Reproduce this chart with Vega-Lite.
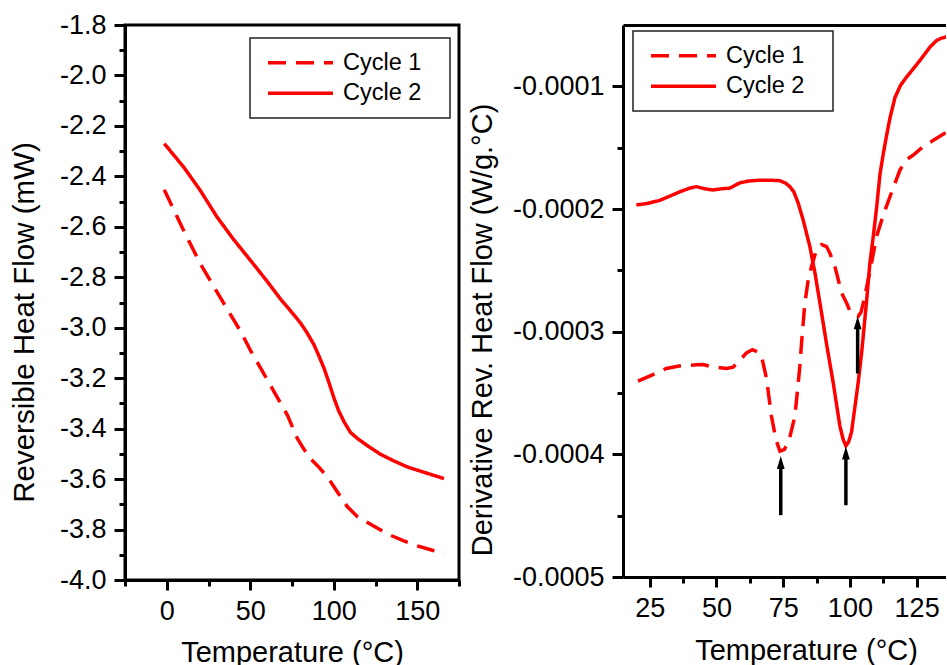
{
  "$schema": "https://vega.github.io/schema/vega-lite/v6.json",
  "background": "white",
  "padding": {"left": 7, "top": 9, "right": 0, "bottom": 0},
  "spacing": 164,
  "bounds": "flush",
  "config": {
    "font": "Liberation Sans",
    "view": {"stroke": null},
    "axis": {
      "grid": false,
      "domainColor": "black",
      "domainWidth": 3,
      "tickColor": "black",
      "tickWidth": 3,
      "labelColor": "black",
      "labelFontSize": 27,
      "labelOverlap": false,
      "labelFlush": false,
      "titleColor": "black",
      "titleFontSize": 29,
      "titleFontWeight": "normal"
    },
    "legend": {
      "orient": "none",
      "symbolType": "stroke",
      "symbolSize": 4225,
      "symbolStrokeWidth": 3.5,
      "clipHeight": 29.5,
      "labelFontSize": 23.5,
      "labelColor": "black",
      "labelOffset": 8,
      "padding": 10,
      "symbolOffset": 6,
      "rowPadding": 0.5,
      "strokeColor": "#222222",
      "strokeWidth": 1.5,
      "fillColor": "white"
    }
  },
  "datasets": {
    "left": [
      {"t": -1.5, "v": -2.453, "cycle": "Cycle 1"},
      {"t": 9.4, "v": -2.605, "cycle": "Cycle 1"},
      {"t": 20.4, "v": -2.75, "cycle": "Cycle 1"},
      {"t": 32.3, "v": -2.883, "cycle": "Cycle 1"},
      {"t": 44.3, "v": -3.015, "cycle": "Cycle 1"},
      {"t": 50.3, "v": -3.092, "cycle": "Cycle 1"},
      {"t": 56.3, "v": -3.161, "cycle": "Cycle 1"},
      {"t": 64.3, "v": -3.254, "cycle": "Cycle 1"},
      {"t": 72.3, "v": -3.347, "cycle": "Cycle 1"},
      {"t": 78.2, "v": -3.439, "cycle": "Cycle 1"},
      {"t": 82, "v": -3.48, "cycle": "Cycle 1"},
      {"t": 86.2, "v": -3.52, "cycle": "Cycle 1"},
      {"t": 91, "v": -3.552, "cycle": "Cycle 1"},
      {"t": 96.2, "v": -3.591, "cycle": "Cycle 1"},
      {"t": 102.2, "v": -3.651, "cycle": "Cycle 1"},
      {"t": 108.2, "v": -3.71, "cycle": "Cycle 1"},
      {"t": 114, "v": -3.748, "cycle": "Cycle 1"},
      {"t": 120.2, "v": -3.772, "cycle": "Cycle 1"},
      {"t": 127, "v": -3.798, "cycle": "Cycle 1"},
      {"t": 134.1, "v": -3.823, "cycle": "Cycle 1"},
      {"t": 142, "v": -3.845, "cycle": "Cycle 1"},
      {"t": 150.1, "v": -3.865, "cycle": "Cycle 1"},
      {"t": 158, "v": -3.88, "cycle": "Cycle 1"},
      {"t": 166, "v": -3.897, "cycle": "Cycle 1"},
      {"t": -1.5, "v": -2.27, "cycle": "Cycle 2"},
      {"t": 10, "v": -2.362, "cycle": "Cycle 2"},
      {"t": 20, "v": -2.455, "cycle": "Cycle 2"},
      {"t": 30, "v": -2.56, "cycle": "Cycle 2"},
      {"t": 40, "v": -2.65, "cycle": "Cycle 2"},
      {"t": 50, "v": -2.732, "cycle": "Cycle 2"},
      {"t": 60, "v": -2.815, "cycle": "Cycle 2"},
      {"t": 68.3, "v": -2.888, "cycle": "Cycle 2"},
      {"t": 75, "v": -2.94, "cycle": "Cycle 2"},
      {"t": 80.2, "v": -2.982, "cycle": "Cycle 2"},
      {"t": 84, "v": -3.02, "cycle": "Cycle 2"},
      {"t": 88.2, "v": -3.068, "cycle": "Cycle 2"},
      {"t": 91, "v": -3.11, "cycle": "Cycle 2"},
      {"t": 94.2, "v": -3.161, "cycle": "Cycle 2"},
      {"t": 97, "v": -3.215, "cycle": "Cycle 2"},
      {"t": 100.2, "v": -3.28, "cycle": "Cycle 2"},
      {"t": 103, "v": -3.33, "cycle": "Cycle 2"},
      {"t": 106.2, "v": -3.373, "cycle": "Cycle 2"},
      {"t": 110, "v": -3.415, "cycle": "Cycle 2"},
      {"t": 114.2, "v": -3.439, "cycle": "Cycle 2"},
      {"t": 120, "v": -3.467, "cycle": "Cycle 2"},
      {"t": 128.1, "v": -3.502, "cycle": "Cycle 2"},
      {"t": 136, "v": -3.528, "cycle": "Cycle 2"},
      {"t": 144.1, "v": -3.552, "cycle": "Cycle 2"},
      {"t": 155, "v": -3.575, "cycle": "Cycle 2"},
      {"t": 166, "v": -3.598, "cycle": "Cycle 2"}
    ],
    "right": [
      {"t": 20.6, "v": -0.0003403, "cycle": "Cycle 1"},
      {"t": 26.25, "v": -0.000335, "cycle": "Cycle 1"},
      {"t": 31.25, "v": -0.00033, "cycle": "Cycle 1"},
      {"t": 36, "v": -0.000328, "cycle": "Cycle 1"},
      {"t": 42.5, "v": -0.000327, "cycle": "Cycle 1"},
      {"t": 45, "v": -0.0003268, "cycle": "Cycle 1"},
      {"t": 48, "v": -0.0003285, "cycle": "Cycle 1"},
      {"t": 53.75, "v": -0.00033, "cycle": "Cycle 1"},
      {"t": 56.25, "v": -0.000329, "cycle": "Cycle 1"},
      {"t": 58.5, "v": -0.000324, "cycle": "Cycle 1"},
      {"t": 61.25, "v": -0.0003173, "cycle": "Cycle 1"},
      {"t": 63.5, "v": -0.0003146, "cycle": "Cycle 1"},
      {"t": 65.5, "v": -0.0003165, "cycle": "Cycle 1"},
      {"t": 66.9, "v": -0.00032, "cycle": "Cycle 1"},
      {"t": 68.75, "v": -0.000338, "cycle": "Cycle 1"},
      {"t": 70.6, "v": -0.0003688, "cycle": "Cycle 1"},
      {"t": 72.3, "v": -0.000388, "cycle": "Cycle 1"},
      {"t": 73.8, "v": -0.0003975, "cycle": "Cycle 1"},
      {"t": 75.5, "v": -0.000396, "cycle": "Cycle 1"},
      {"t": 77.5, "v": -0.000386, "cycle": "Cycle 1"},
      {"t": 79.4, "v": -0.0003688, "cycle": "Cycle 1"},
      {"t": 80.5, "v": -0.000345, "cycle": "Cycle 1"},
      {"t": 81.25, "v": -0.0003281, "cycle": "Cycle 1"},
      {"t": 81.9, "v": -0.000309, "cycle": "Cycle 1"},
      {"t": 83.1, "v": -0.000277, "cycle": "Cycle 1"},
      {"t": 84.4, "v": -0.0002577, "cycle": "Cycle 1"},
      {"t": 85.6, "v": -0.000247, "cycle": "Cycle 1"},
      {"t": 87.5, "v": -0.000233, "cycle": "Cycle 1"},
      {"t": 89.4, "v": -0.000229, "cycle": "Cycle 1"},
      {"t": 91.25, "v": -0.0002306, "cycle": "Cycle 1"},
      {"t": 92.5, "v": -0.000236, "cycle": "Cycle 1"},
      {"t": 94.4, "v": -0.000247, "cycle": "Cycle 1"},
      {"t": 96.9, "v": -0.0002685, "cycle": "Cycle 1"},
      {"t": 98.75, "v": -0.0002767, "cycle": "Cycle 1"},
      {"t": 100, "v": -0.000283, "cycle": "Cycle 1"},
      {"t": 101.5, "v": -0.0002862, "cycle": "Cycle 1"},
      {"t": 103.1, "v": -0.0002875, "cycle": "Cycle 1"},
      {"t": 104.2, "v": -0.000284, "cycle": "Cycle 1"},
      {"t": 105.6, "v": -0.000271, "cycle": "Cycle 1"},
      {"t": 108.1, "v": -0.000244, "cycle": "Cycle 1"},
      {"t": 110, "v": -0.0002224, "cycle": "Cycle 1"},
      {"t": 112.5, "v": -0.000205, "cycle": "Cycle 1"},
      {"t": 115, "v": -0.00019, "cycle": "Cycle 1"},
      {"t": 118.75, "v": -0.0001683, "cycle": "Cycle 1"},
      {"t": 121, "v": -0.00016, "cycle": "Cycle 1"},
      {"t": 123.75, "v": -0.000156, "cycle": "Cycle 1"},
      {"t": 127.5, "v": -0.000149, "cycle": "Cycle 1"},
      {"t": 131.25, "v": -0.000144, "cycle": "Cycle 1"},
      {"t": 136.4, "v": -0.000137, "cycle": "Cycle 1"},
      {"t": 20, "v": -0.0001967, "cycle": "Cycle 2"},
      {"t": 24, "v": -0.0001955, "cycle": "Cycle 2"},
      {"t": 28.75, "v": -0.000193, "cycle": "Cycle 2"},
      {"t": 32, "v": -0.00019, "cycle": "Cycle 2"},
      {"t": 36.25, "v": -0.000186, "cycle": "Cycle 2"},
      {"t": 40, "v": -0.000183, "cycle": "Cycle 2"},
      {"t": 42.5, "v": -0.0001818, "cycle": "Cycle 2"},
      {"t": 45.5, "v": -0.0001835, "cycle": "Cycle 2"},
      {"t": 48.75, "v": -0.0001845, "cycle": "Cycle 2"},
      {"t": 52, "v": -0.0001835, "cycle": "Cycle 2"},
      {"t": 55, "v": -0.000183, "cycle": "Cycle 2"},
      {"t": 58.75, "v": -0.0001787, "cycle": "Cycle 2"},
      {"t": 62, "v": -0.0001772, "cycle": "Cycle 2"},
      {"t": 66.25, "v": -0.0001765, "cycle": "Cycle 2"},
      {"t": 70, "v": -0.0001765, "cycle": "Cycle 2"},
      {"t": 73.75, "v": -0.0001769, "cycle": "Cycle 2"},
      {"t": 76, "v": -0.000179, "cycle": "Cycle 2"},
      {"t": 77.5, "v": -0.0001818, "cycle": "Cycle 2"},
      {"t": 79, "v": -0.000186, "cycle": "Cycle 2"},
      {"t": 80.6, "v": -0.000195, "cycle": "Cycle 2"},
      {"t": 82.5, "v": -0.000209, "cycle": "Cycle 2"},
      {"t": 85, "v": -0.0002306, "cycle": "Cycle 2"},
      {"t": 86.9, "v": -0.000252, "cycle": "Cycle 2"},
      {"t": 89.4, "v": -0.000285, "cycle": "Cycle 2"},
      {"t": 91.25, "v": -0.00031, "cycle": "Cycle 2"},
      {"t": 93.75, "v": -0.0003417, "cycle": "Cycle 2"},
      {"t": 96.25, "v": -0.000377, "cycle": "Cycle 2"},
      {"t": 97.5, "v": -0.000388, "cycle": "Cycle 2"},
      {"t": 98.5, "v": -0.000393, "cycle": "Cycle 2"},
      {"t": 99.5, "v": -0.00039, "cycle": "Cycle 2"},
      {"t": 100.6, "v": -0.000382, "cycle": "Cycle 2"},
      {"t": 103.1, "v": -0.0003417, "cycle": "Cycle 2"},
      {"t": 104.4, "v": -0.000317, "cycle": "Cycle 2"},
      {"t": 106.25, "v": -0.000275, "cycle": "Cycle 2"},
      {"t": 107.5, "v": -0.000244, "cycle": "Cycle 2"},
      {"t": 108.75, "v": -0.0002224, "cycle": "Cycle 2"},
      {"t": 110, "v": -0.000199, "cycle": "Cycle 2"},
      {"t": 111.25, "v": -0.000172, "cycle": "Cycle 2"},
      {"t": 112.5, "v": -0.000155, "cycle": "Cycle 2"},
      {"t": 113.75, "v": -0.00014, "cycle": "Cycle 2"},
      {"t": 115, "v": -0.000126, "cycle": "Cycle 2"},
      {"t": 116.9, "v": -0.000109, "cycle": "Cycle 2"},
      {"t": 119, "v": -0.000099, "cycle": "Cycle 2"},
      {"t": 121.25, "v": -0.0000924, "cycle": "Cycle 2"},
      {"t": 126.25, "v": -0.0000789, "cycle": "Cycle 2"},
      {"t": 130, "v": -0.000068, "cycle": "Cycle 2"},
      {"t": 132.5, "v": -0.0000626, "cycle": "Cycle 2"},
      {"t": 134, "v": -0.000061, "cycle": "Cycle 2"},
      {"t": 136.4, "v": -0.0000595, "cycle": "Cycle 2"}
    ],
    "arrows": [
      {"t": 74.1, "tip": -0.0004013, "neck": -0.000411, "base": -0.0004496},
      {"t": 98.5, "tip": -0.0003937, "neck": -0.000403, "base": -0.0004415},
      {"t": 102.9, "tip": -0.0002875, "neck": -0.000297, "base": -0.0003341}
    ]
  },
  "resolve": {"scale": {"color": "independent", "strokeDash": "independent"}},
  "hconcat": [
    {
      "width": 334,
      "height": 555,
      "view": {"stroke": "black", "strokeWidth": 3},
      "data": {"name": "left"},
      "mark": {"type": "line", "strokeWidth": 3.5, "clip": true},
      "encoding": {
        "x": {
          "field": "t", "type": "quantitative",
          "scale": {"domain": [-25, 175], "nice": false, "zero": false},
          "axis": {
            "values": [-25, 0, 25, 50, 75, 100, 125, 150, 175],
            "labelExpr": "datum.value % 50 === 0 ? datum.label : ''",
            "tickSize": {"condition": {"test": "datum.value % 50 === 0", "value": 10}, "value": 6},
            "labelPadding": 8,
            "title": "Temperature (°C)",
            "titleY": 81,
            "titleBaseline": "alphabetic"
          }
        },
        "y": {
          "field": "v", "type": "quantitative",
          "scale": {"domain": [-4.0, -1.8], "nice": false, "zero": false},
          "axis": {
            "values": [-4.0, -3.9, -3.8, -3.7, -3.6, -3.5, -3.4, -3.3, -3.2, -3.1, -3.0, -2.9, -2.8, -2.7, -2.6, -2.5, -2.4, -2.3, -2.2, -2.1, -2.0, -1.9, -1.8],
            "labelExpr": "abs(round(datum.value*10)) % 2 === 0 ? replace(format(datum.value, '.1f'), '\u2212', '-') : ''",
            "tickSize": {"condition": {"test": "abs(round(datum.value*10)) % 2 === 0", "value": 11}, "value": 6},
            "labelPadding": 8,
            "title": "Reversible Heat Flow (mW)",
            "titleFontSize": 29.5,
            "titleX": -92,
            "titleY": 297,
            "titleBaseline": "alphabetic"
          }
        },
        "color": {
          "field": "cycle", "type": "nominal",
          "scale": {"range": ["#ff0000", "#ff0000"]},
          "legend": {"title": null, "legendX": 125, "legendY": 13, "labelExpr": "datum.label + '\u2800'"}
        },
        "strokeDash": {
          "field": "cycle", "type": "nominal",
          "scale": {"range": [[18, 10], [1, 0]]},
          "legend": {"title": null, "legendX": 125, "legendY": 13, "labelExpr": "datum.label + '\u2800'"}
        }
      }
    },
    {
      "width": 323,
      "height": 552,
      "resolve": {"axis": {"x": "independent", "y": "independent"}},
      "layer": [
        {
          "data": {"name": "right"},
          "mark": {"type": "line", "strokeWidth": 3.5, "clip": true},
          "encoding": {
            "x": {
              "field": "t", "type": "quantitative",
              "scale": {"domain": [15, 136], "nice": false, "zero": false},
              "axis": {
                "values": [25, 37.5, 50, 62.5, 75, 87.5, 100, 112.5, 125],
                "labelExpr": "datum.value % 25 === 0 ? datum.label : ''",
                "tickSize": {"condition": {"test": "datum.value % 25 === 0", "value": 10}, "value": 6},
                "labelPadding": 8,
                "title": "Temperature (°C)",
                "titleX": 183,
                "titleY": 82,
                "titleBaseline": "alphabetic"
              }
            },
            "y": {
              "field": "v", "type": "quantitative",
              "scale": {"domain": [-0.0005, -0.00005], "nice": false, "zero": false},
              "axis": {
                "values": [-0.0005, -0.00045, -0.0004, -0.00035, -0.0003, -0.00025, -0.0002, -0.00015, -0.0001],
                "labelExpr": "abs(round(datum.value*100000)) % 10 === 0 ? replace(format(datum.value, '.4f'), '\u2212', '-') : ''",
                "tickSize": {"condition": {"test": "abs(round(datum.value*100000)) % 10 === 0", "value": 11}, "value": 6},
                "labelPadding": 8,
                "title": "Derivative Rev. Heat Flow (W/g.°C)",
                "titleX": -131.3,
                "titleY": 304.5,
                "titleBaseline": "alphabetic"
              }
            },
            "color": {
              "field": "cycle", "type": "nominal",
              "scale": {"range": ["#ff0000", "#ff0000"]},
              "legend": {"title": null, "legendX": 10, "legendY": 6, "labelExpr": "datum.label + '\u2800'"}
            },
            "strokeDash": {
              "field": "cycle", "type": "nominal",
              "scale": {"range": [[18, 10], [1, 0]]},
              "legend": {"title": null, "legendX": 10, "legendY": 6, "labelExpr": "datum.label + '\u2800'"}
            }
          }
        },
        {
          "data": {"name": "arrows"},
          "mark": {"type": "rule", "strokeWidth": 3.5, "color": "black"},
          "encoding": {
            "x": {
              "field": "t", "type": "quantitative",
              "scale": {"domain": [15, 136], "nice": false, "zero": false},
              "axis": {"orient": "top", "labels": false, "ticks": false, "title": null, "domain": true}
            },
            "y": {
              "field": "base", "type": "quantitative",
              "scale": {"domain": [-0.0005, -0.00005], "nice": false, "zero": false},
              "axis": null
            },
            "y2": {"field": "neck"}
          }
        },
        {
          "data": {"name": "arrows"},
          "mark": {"type": "point", "shape": "M0,0 L-0.6,2 L0.6,2 Z", "size": 169, "filled": true, "color": "black", "opacity": 1, "strokeWidth": 0},
          "encoding": {
            "x": {
              "field": "t", "type": "quantitative",
              "scale": {"domain": [15, 136], "nice": false, "zero": false},
              "axis": null
            },
            "y": {
              "field": "tip", "type": "quantitative",
              "scale": {"domain": [-0.0005, -0.00005], "nice": false, "zero": false},
              "axis": null
            }
          }
        }
      ]
    }
  ]
}
